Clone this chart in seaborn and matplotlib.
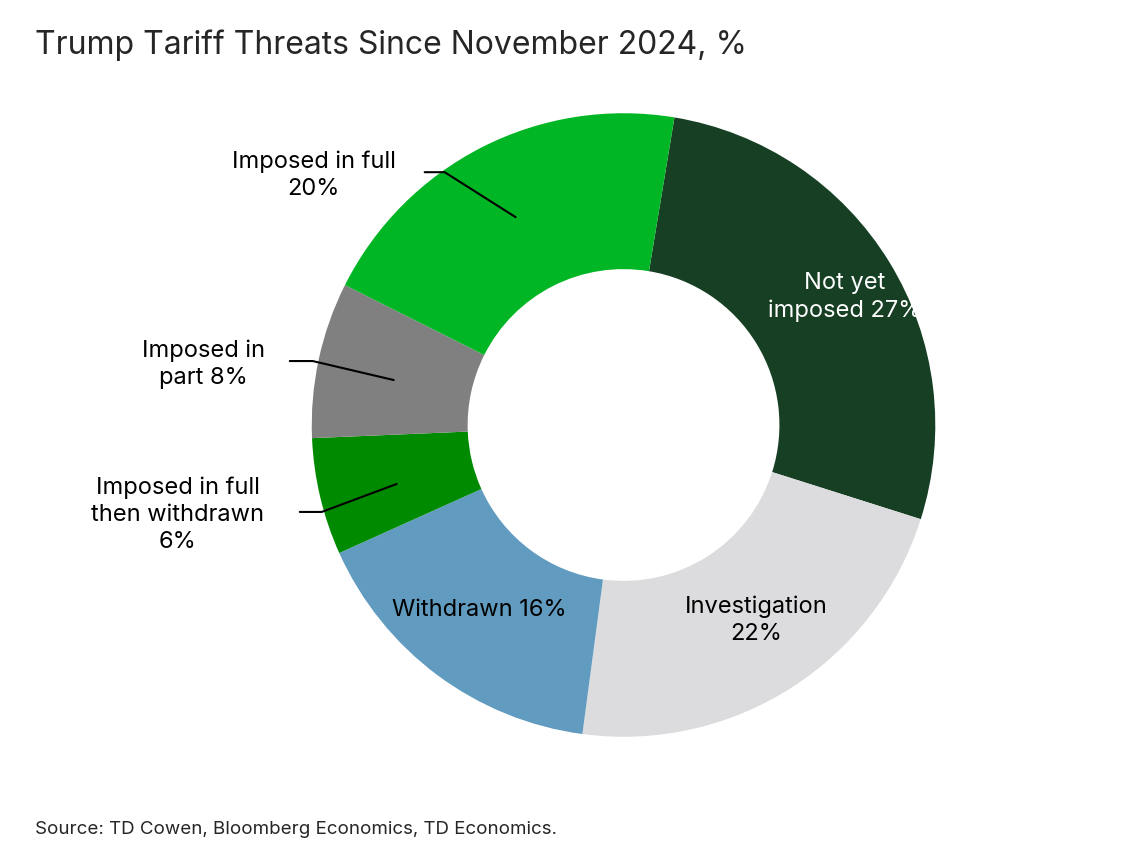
import matplotlib
matplotlib.use("Agg")
import matplotlib.pyplot as plt
import seaborn as sns

sns.set_theme(style="white")
plt.rcParams['font.family'] = ['Inter', 'DejaVu Sans']

categories = ["Not yet imposed", "Investigation", "Withdrawn",
              "Imposed in full then withdrawn", "Imposed in part", "Imposed in full"]
values = [27, 22, 16, 6, 8, 20]
colors = ["#173F24", "#DCDCDE", "#619BC0", "#008A00", "#808080", "#00B624"]

fig = plt.figure(figsize=(11.42, 8.5), dpi=100)
ax = fig.add_axes([0.546 - 0.273, 0.5 - 0.367, 0.546, 0.734])
ax.pie(values, colors=colors, startangle=80.6, counterclock=False,
       wedgeprops=dict(width=0.5, edgecolor="none"), radius=1.0)
ax.set_xlim(-1, 1); ax.set_ylim(-1, 1); ax.set_aspect("equal")
ax.axis("off")

def P(x, y):
    return ((x - 624) / 312, (425 - y) / 312)

fs = 17
def lab(x, y, s, c="black"):
    ax.text(*P(x, y), s, ha="center", va="center", fontsize=fs, color=c,
            linespacing=1.3, clip_on=False)

lab(845, 297, "Not yet\nimposed 27%", "white")
lab(757, 620, "Investigation\n22%")
lab(480, 610, "Withdrawn 16%")
lab(314, 175, "Imposed in full\n20%")
lab(204, 364, "Imposed in\npart 8%")
lab(178, 515, "Imposed in full\nthen withdrawn\n6%")

for pts in [[(425, 172), (445, 172), (516, 217)],
            [(290, 361), (313, 361), (394, 380)],
            [(300, 512), (322, 512), (397, 484)]]:
    xs, ys = zip(*[P(*p) for p in pts])
    ax.plot(xs, ys, color="black", lw=1.5, clip_on=False)

fig.text(35 / 1142, 1 - 45 / 850, "Trump Tariff Threats Since November 2024, %",
         fontsize=23, va="center", ha="left")
fig.text(35 / 1142, 1 - 830 / 850, "Source: TD Cowen, Bloomberg Economics, TD Economics.",
         fontsize=13.5, va="center", ha="left")
fig.savefig("out.png", dpi=100)
